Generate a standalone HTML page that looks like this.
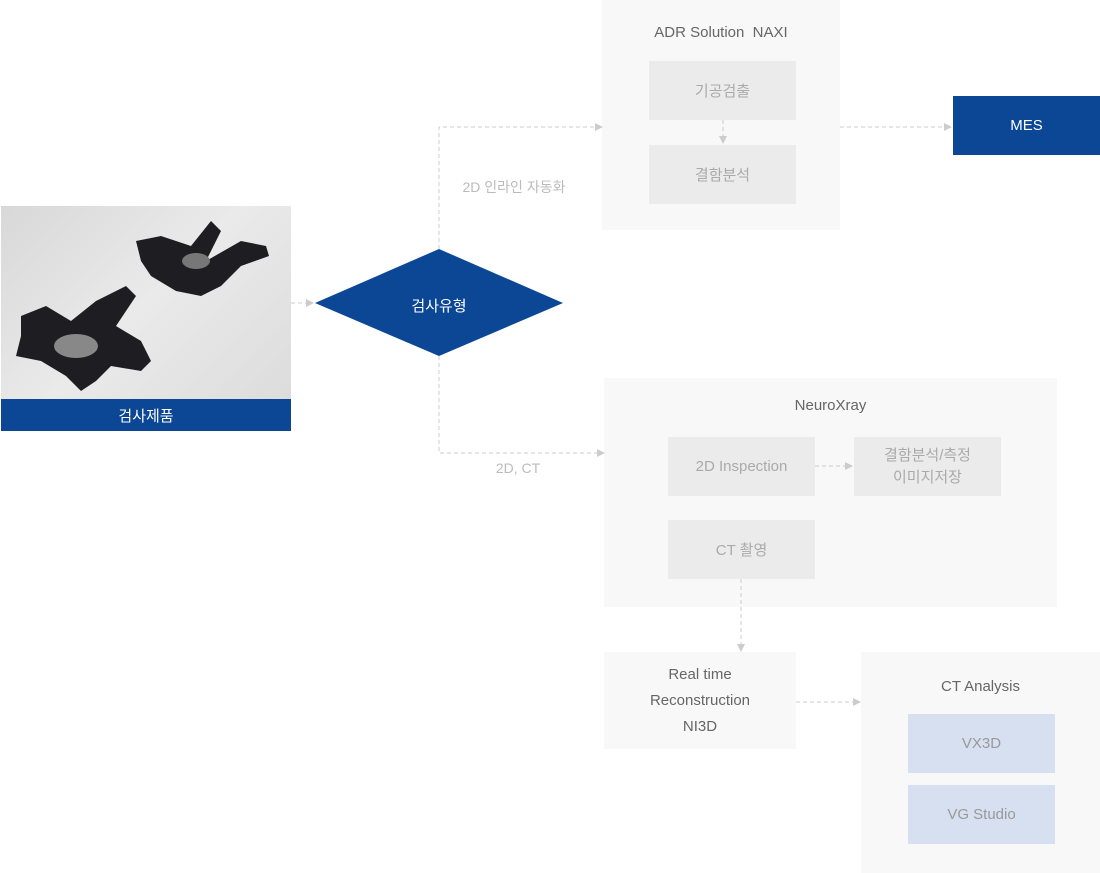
<!DOCTYPE html>
<html><head><meta charset="utf-8"><style>
body{margin:0;width:1100px;height:873px;position:relative;background:#fff;font-family:"Liberation Sans","Noto Sans CJK KR",sans-serif;overflow:hidden}
.a{position:absolute;display:flex;align-items:center;justify-content:center;text-align:center;box-sizing:border-box}
.t{position:absolute;font-size:15px;color:#666;text-align:center}
.g{background:#ebebeb;color:#aaa;font-size:15px}
.p{background:#f8f8f8}
.b{background:#d6e0f0;color:#999;font-size:15px}
</style></head><body>
<div class="a p" style="left:602px;top:0;width:238px;height:230px"></div>
<div class="t" style="left:602px;top:24px;width:238px">ADR Solution&nbsp; NAXI</div>
<div class="a g" style="left:649px;top:61px;width:147px;height:59px">기공검출</div>
<div class="a g" style="left:649px;top:145px;width:147px;height:59px">결함분석</div>
<div class="a" style="left:953px;top:96px;width:147px;height:59px;background:#0b4795;color:#fff;font-size:15px">MES</div>

<div class="a p" style="left:604px;top:378px;width:453px;height:229px"></div>
<div class="t" style="left:604px;top:397px;width:453px">NeuroXray</div>
<div class="a g" style="left:668px;top:437px;width:147px;height:59px">2D Inspection</div>
<div class="a g" style="left:854px;top:437px;width:147px;height:59px;line-height:22px">결함분석/측정<br>이미지저장</div>
<div class="a g" style="left:668px;top:520px;width:147px;height:59px">CT 촬영</div>

<div class="a p" style="left:604px;top:652px;width:192px;height:97px;color:#666;font-size:15px;line-height:26px">Real time<br>Reconstruction<br>NI3D</div>
<div class="a p" style="left:861px;top:652px;width:239px;height:221px"></div>
<div class="t" style="left:861px;top:678px;width:239px">CT Analysis</div>
<div class="a b" style="left:908px;top:714px;width:147px;height:59px">VX3D</div>
<div class="a b" style="left:908px;top:785px;width:147px;height:59px">VG Studio</div>

<div style="position:absolute;left:1px;top:206px;width:290px;height:193px;background:linear-gradient(135deg,#d8d8d8,#eaeaea 50%,#dcdcdc);overflow:hidden">
<svg width="290" height="193">
<g fill="#1e1e22">
<path d="M135 35 L160 30 L190 40 L210 15 L220 25 L205 55 L240 35 L265 40 L268 50 L240 60 L220 80 L200 90 L175 85 L150 70 L140 55Z"/>
<path d="M20 110 L45 100 L70 115 L95 95 L125 80 L135 90 L115 120 L140 135 L150 155 L140 165 L110 160 L95 175 L80 185 L65 170 L40 155 L15 150 L20 130Z"/>
</g>
<ellipse cx="195" cy="55" rx="14" ry="8" fill="#777"/>
<ellipse cx="75" cy="140" rx="22" ry="12" fill="#888"/>
</svg></div>
<div class="a" style="left:1px;top:399px;width:290px;height:32px;background:#0b4795;color:#fff;font-size:15px">검사제품</div>

<svg style="position:absolute;left:0;top:0" width="1100" height="873">
<defs><marker id="m" markerWidth="8" markerHeight="8" refX="7" refY="4" orient="auto" markerUnits="userSpaceOnUse"><path d="M0,0 L8,4 L0,8Z" fill="#ccc"/></marker></defs>
<g stroke="#ccc" stroke-dasharray="4,3" fill="none">
<path d="M291 303 H313" marker-end="url(#m)"/>
<path d="M439 249 V127 H602" marker-end="url(#m)"/>
<path d="M840 127 H951" marker-end="url(#m)"/>
<path d="M723 120 V143" marker-end="url(#m)"/>
<path d="M439 356 V453 H604" marker-end="url(#m)"/>
<path d="M815 466 H852" marker-end="url(#m)"/>
<path d="M741 579 V651" marker-end="url(#m)"/>
<path d="M796 702 H860" marker-end="url(#m)"/>
</g>
<polygon points="315,303 439,249 563,303 439,356" fill="#0b4795"/>
<text x="439" y="311" fill="#fff" font-size="15" text-anchor="middle" font-family="Liberation Sans,Noto Sans CJK KR,sans-serif">검사유형</text>
<text x="514" y="192" fill="#bbb" font-size="14" text-anchor="middle" font-family="Liberation Sans,Noto Sans CJK KR,sans-serif">2D 인라인  자동화</text>
<text x="518" y="473" fill="#bbb" font-size="14" text-anchor="middle" font-family="Liberation Sans,sans-serif">2D, CT</text>
</svg>
</body></html>
